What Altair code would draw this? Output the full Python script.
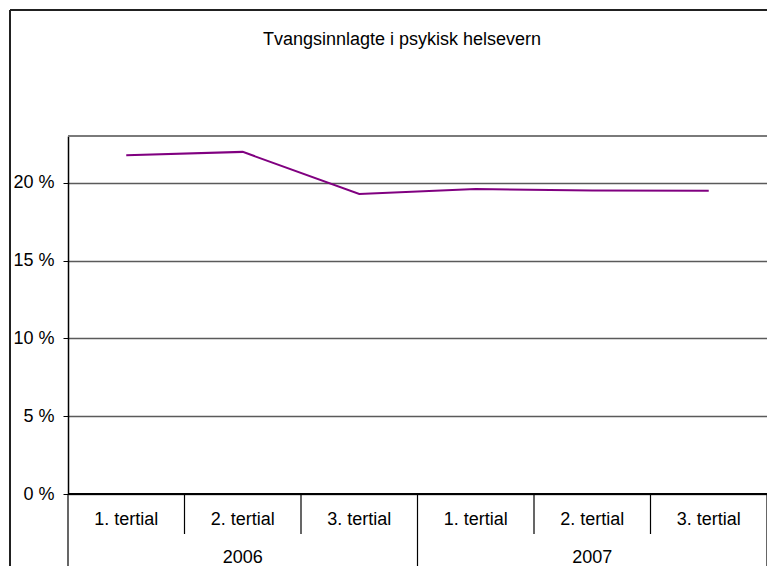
import altair as alt
import pandas as pd

categories = ["1. tertial", "2. tertial", "3. tertial", "1. tertial", "2. tertial", "3. tertial"]
years = ["2006", "2006", "2006", "2007", "2007", "2007"]
values = [21.76, 21.98, 19.27, 19.59, 19.50, 19.48]
y_ticks = [0, 5, 10, 15, 20]
title_text = "Tvangsinnlagte i psykisk helsevern"

W, H = 699, 358
FONT = "Liberation Sans"

df = pd.DataFrame({"idx": [i + 0.5 for i in range(len(values))],
                   "cat": categories, "year": years, "val": values})

# year groups
year_names = list(dict.fromkeys(years))
yr_rows = []
for yn in year_names:
    ids = [i for i, y in enumerate(years) if y == yn]
    yr_rows.append({"year": yn, "mid": (ids[0] + ids[-1] + 1) / 2.0,
                    "start": ids[0], "end": ids[-1] + 1})
yr_df = pd.DataFrame(yr_rows)
tert_sep = pd.DataFrame({"b": [i for i in range(1, len(values)) if years[i] == years[i - 1]]})
year_sep = pd.DataFrame({"b": sorted(set(yr_df["start"]).union(set(yr_df["end"])))})

xs = alt.Scale(domain=[0, len(values)], nice=False, zero=False)
ys = alt.Scale(domain=[0, 23], nice=False, zero=True)

base = alt.Chart(df)

line = base.mark_line(color="#800080", strokeWidth=2).encode(
    x=alt.X("idx:Q", scale=xs, axis=None),
    y=alt.Y("val:Q", scale=ys, axis=alt.Axis(
        values=y_ticks, title=None, grid=True, gridColor="#5a5a5a", gridWidth=1.4,
        domainColor="#000000", domainWidth=1.5, tickColor="#000000", tickSize=5,
        labelPadding=9, labelFontSize=18, labelFont=FONT, labelColor="#000000",
        labelExpr="datum.value + ' %'")),
)

zero_rule = base.mark_rule(color="#000000", strokeWidth=1.5).encode(
    x=alt.value(0), x2=alt.value(W), y=alt.value(H))

top_border = base.mark_rule(color="#7a7a7a", strokeWidth=2).encode(
    x=alt.value(0), x2=alt.value(W), y=alt.value(0))

cat_text = base.mark_text(fontSize=18, font=FONT, color="#000000", baseline="middle").encode(
    x=alt.X("idx:Q", scale=xs), y=alt.value(H + 26), text="cat:N")

year_text = alt.Chart(yr_df).mark_text(fontSize=18, font=FONT, color="#000000",
                                        baseline="middle").encode(
    x=alt.X("mid:Q", scale=xs), y=alt.value(H + 64), text="year:N")

tsep = alt.Chart(tert_sep).mark_rule(color="#000000", strokeWidth=1.2).encode(
    x=alt.X("b:Q", scale=xs), y=alt.value(H), y2=alt.value(H + 40))

ysep = alt.Chart(year_sep).mark_rule(color="#000000", strokeWidth=1.2).encode(
    x=alt.X("b:Q", scale=xs), y=alt.value(H), y2=alt.value(H + 100))

frame_top = base.mark_rule(color="#222222", strokeWidth=1.5).encode(
    x=alt.value(-58), x2=alt.value(W + 20), y=alt.value(-126))
frame_left = base.mark_rule(color="#222222", strokeWidth=1.5).encode(
    x=alt.value(-58), y=alt.value(-126), y2=alt.value(H + 100))

title = alt.Chart(pd.DataFrame({"t": [title_text]})).mark_text(
    fontSize=18, font=FONT, color="#000000", baseline="middle", align="center").encode(
    x=alt.value(334), y=alt.value(-96), text="t:N")

chart = alt.layer(frame_top, frame_left, title, top_border, line, zero_rule, tsep, ysep,
                  cat_text, year_text).properties(
    width=W, height=H,
    autosize=alt.AutoSizeParams(type="none"),
    padding={"left": 60, "top": 128, "right": 0, "bottom": 72},
).configure_view(stroke="#7a7a7a", strokeWidth=2).configure(background="white")

chart.save("out.html", embed_options={"renderer": "svg", "actions": False})
